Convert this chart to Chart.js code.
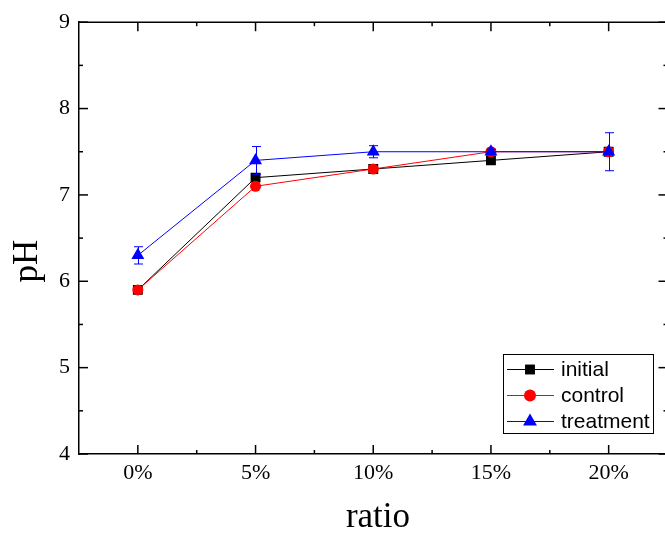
<!DOCTYPE html>
<html>
<head>
<meta charset="utf-8">
<script src="https://cdn.jsdelivr.net/npm/chart.js@4.4.1/dist/chart.umd.min.js"></script>
<style>
  html, body { margin: 0; padding: 0; background: #fff; overflow: hidden; }
  #wrap { width: 675px; height: 533px; }
</style>
</head>
<body>
<div id="wrap"><canvas id="phChart" width="675" height="533"></canvas></div>
<script>
// data
const ratios = ["0%", "5%", "10%", "15%", "20%"];
const initialPH = [5.9, 7.2, 7.3, 7.4, 7.5];
const controlPH = [5.9, 7.1, 7.3, 7.5, 7.5];
const treatmentPH = [6.3, 7.4, 7.5, 7.5, 7.5];
const treatmentErr = [0.1, 0.16, 0.07, 0.03, 0.22];
const yMin = 4;
const yMax = 9;

const SERIF = "'Liberation Serif', 'Times New Roman', serif";
const SANS = "'Liberation Sans', Arial, sans-serif";

function line(ctx, x1, y1, x2, y2) {
  ctx.beginPath();
  ctx.moveTo(x1, y1);
  ctx.lineTo(x2, y2);
  ctx.stroke();
}

function marker(ctx, style, x, y, r, color) {
  ctx.fillStyle = color;
  ctx.beginPath();
  if (style === "rect") {
    const s = r * Math.SQRT1_2;
    ctx.rect(x - s, y - s, 2 * s, 2 * s);
  } else if (style === "triangle") {
    ctx.moveTo(x, y - r);
    ctx.lineTo(x + r * Math.sin(2 * Math.PI / 3), y - r * Math.cos(2 * Math.PI / 3));
    ctx.lineTo(x + r * Math.sin(4 * Math.PI / 3), y - r * Math.cos(4 * Math.PI / 3));
    ctx.closePath();
  } else {
    ctx.arc(x, y, r, 0, Math.PI * 2);
  }
  ctx.fill();
}

const framePlugin = {
  id: "framePlugin",
  afterDatasetsDraw(chart) {
    // error bars for the treatment series
    const ctx = chart.ctx;
    const xs = chart.scales.x;
    const ys = chart.scales.y;
    const ds = chart.data.datasets[2];
    ctx.save();
    ctx.strokeStyle = ds.borderColor;
    ctx.lineWidth = 1;
    ds.data.forEach((v, i) => {
      const e = ds.errors[i];
      const x = Math.round(xs.getPixelForValue(i)) + 0.5;
      const yt = ys.getPixelForValue(v + e);
      const yb = ys.getPixelForValue(v - e);
      line(ctx, x, yt, x, yb);
      line(ctx, x - 4.5, yt, x + 4.5, yt);
      line(ctx, x - 4.5, yb, x + 4.5, yb);
    });
    ctx.restore();
  },
  afterDraw(chart) {
    const ctx = chart.ctx;
    const { left, right, top, bottom } = chart.chartArea;
    const xs = chart.scales.x;
    const ys = chart.scales.y;
    ctx.save();
    ctx.strokeStyle = "#000";
    ctx.lineWidth = 1.5;
    line(ctx, left, top, right, top);
    line(ctx, right, top, right, bottom);

    // inward ticks, x (bottom + top)
    for (let i = 0; i < ratios.length; i++) {
      const x = xs.getPixelForValue(i);
      line(ctx, x, bottom, x, bottom - 9);
      line(ctx, x, top, x, top + 9);
      const xm = xs.getPixelForValue(i + 0.5);
      line(ctx, xm, bottom, xm, bottom - 4);
      line(ctx, xm, top, xm, top + 4);
    }
    // inward ticks, y (left + right)
    for (let v = yMin; v <= yMax; v++) {
      const y = ys.getPixelForValue(v);
      line(ctx, left, y, left + 9, y);
      line(ctx, right, y, right - 9, y);
      if (v < yMax) {
        const ym = ys.getPixelForValue(v + 0.5);
        line(ctx, left, ym, left + 4, ym);
        line(ctx, right, ym, right - 4, ym);
      }
    }

    // axis titles
    ctx.fillStyle = "#000";
    ctx.font = "35px " + SERIF;
    ctx.textAlign = "center";
    ctx.textBaseline = "alphabetic";
    ctx.fillText("ratio", 378, 527);
    ctx.save();
    ctx.translate(37, 261);
    ctx.rotate(-Math.PI / 2);
    ctx.fillText("pH", 0, 0);
    ctx.restore();

    // legend box
    ctx.lineWidth = 1;
    ctx.strokeRect(503.5, 354.5, 150, 79);
    ctx.font = "21px " + SANS;
    ctx.textAlign = "left";
    ctx.textBaseline = "middle";
    const rowY = [369, 395, 421];
    const legendR = [7, 6, 8];
    chart.data.datasets.forEach((d, i) => {
      const y = rowY[i];
      ctx.strokeStyle = d.borderColor;
      line(ctx, 507, y + 0.5, 554, y + 0.5);
      marker(ctx, d.pointStyle, 530, y + 0.5, legendR[i], d.borderColor);
      ctx.fillStyle = "#000";
      ctx.fillText(d.label, 561, y + 1);
    });
    ctx.restore();
  },
};

new Chart(document.getElementById("phChart"), {
  type: "line",
  data: {
    labels: ratios,
    datasets: [
      {
        label: "initial",
        data: initialPH,
        borderColor: "#000000",
        backgroundColor: "#000000",
        pointStyle: "rect",
        pointRadius: 7,
        order: 3,
      },
      {
        label: "control",
        data: controlPH,
        borderColor: "#ff0000",
        backgroundColor: "#ff0000",
        pointStyle: "circle",
        pointRadius: 5.5,
        order: 2,
      },
      {
        label: "treatment",
        data: treatmentPH,
        errors: treatmentErr,
        borderColor: "#0000ff",
        backgroundColor: "#0000ff",
        pointStyle: "triangle",
        pointRadius: 7.5,
        order: 1,
      },
    ],
  },
  options: {
    responsive: false,
    animation: false,
    elements: {
      line: { borderWidth: 1, tension: 0 },
      point: { borderWidth: 0, hoverRadius: 7 },
    },
    layout: { padding: { top: 19, right: 5, left: 0, bottom: 0 } },
    scales: {
      x: {
        type: "category",
        offset: true,
        grid: { display: false, drawTicks: false },
        border: { display: true, color: "#000", width: 1.5 },
        ticks: {
          color: "#000",
          font: { family: SERIF, size: 22 },
          padding: 6,
          maxRotation: 0,
        },
        afterFit: (s) => { s.height = 79; },
      },
      y: {
        min: yMin,
        max: yMax,
        grid: { display: false, drawTicks: false },
        border: { display: true, color: "#000", width: 1.5 },
        ticks: {
          stepSize: 1,
          color: "#000",
          font: { family: SERIF, size: 22 },
          padding: 9,
        },
        afterFit: (s) => { s.width = 79; },
      },
    },
    plugins: {
      legend: { display: false },
      tooltip: { enabled: false },
    },
  },
  plugins: [framePlugin],
});
</script>
</body>
</html>
